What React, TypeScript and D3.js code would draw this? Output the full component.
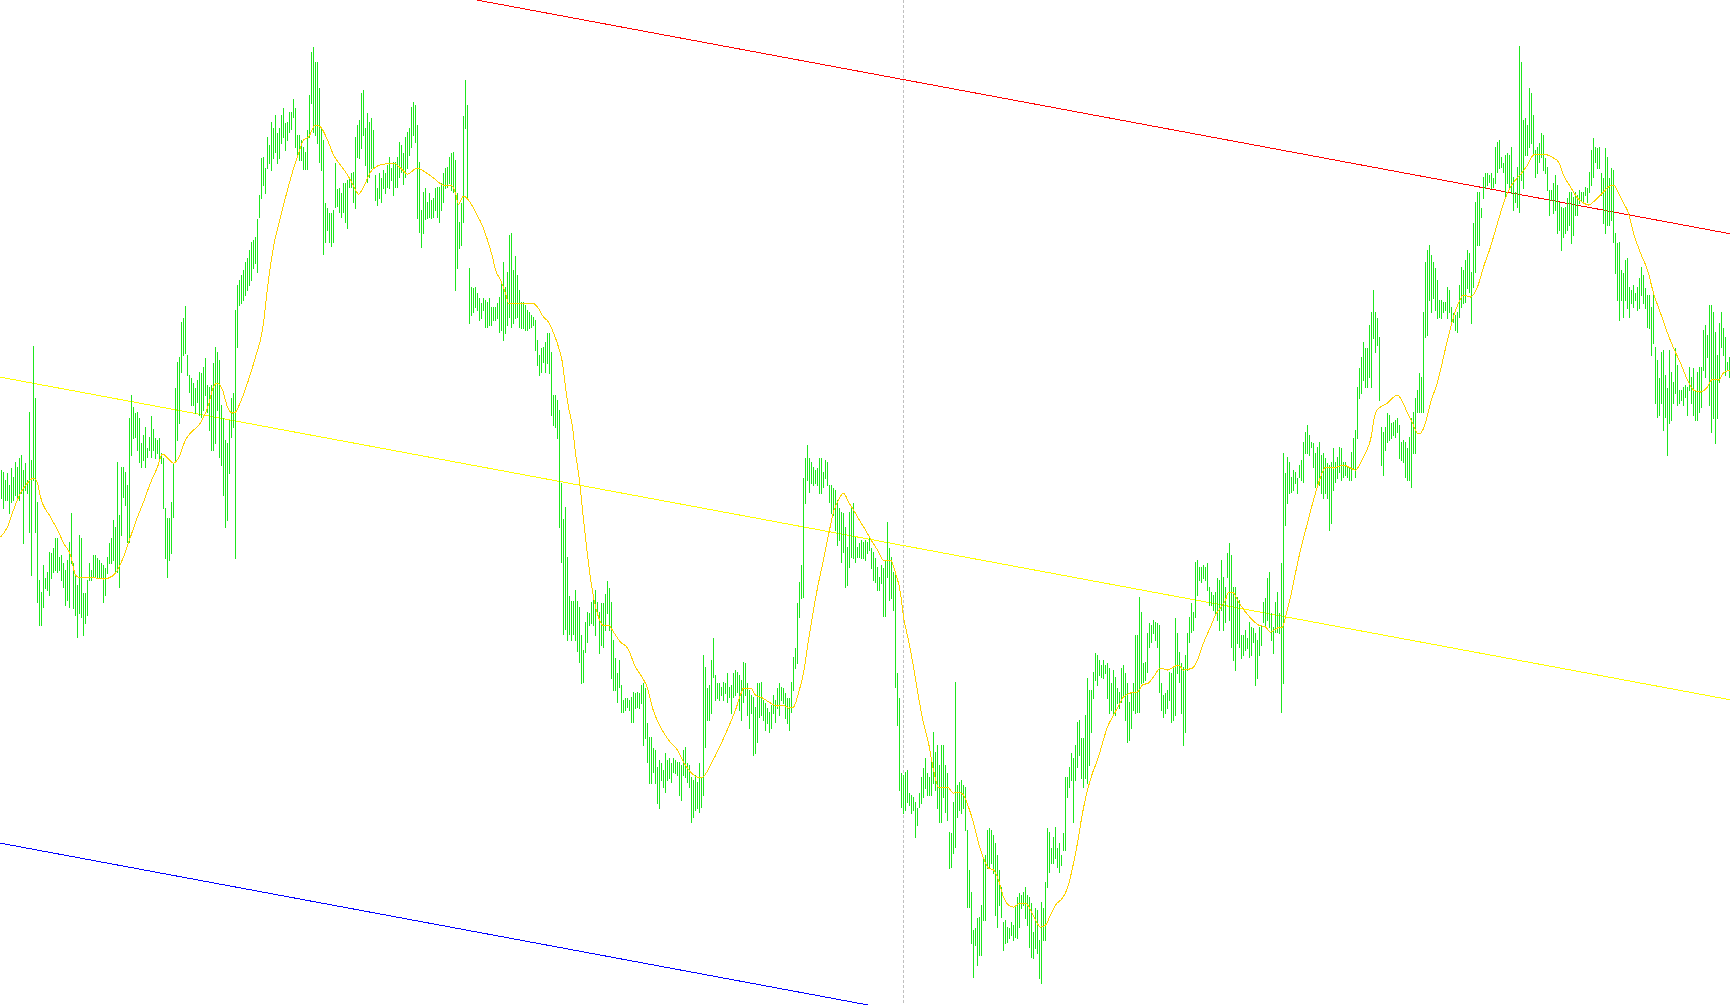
import React from "react";
import * as d3 from "d3";

const WIDTH = 1730;
const HEIGHT = 1005;

// Bar highs (price units)
const highs = [
  530,528,520,527,515,532,523,538,533,542,
  545,530,537,520,588,540,654,602,498,420,
  408,435,422,428,448,447,452,462,462,443,
  445,437,430,440,458,487,437,425,415,465,
  462,407,407,420,437,430,445,445,442,440,
  437,435,432,443,457,462,480,473,538,485,
  533,533,528,515,582,605,593,587,588,582,
  557,565,573,552,563,584,571,562,560,562,
  547,542,492,482,482,498,537,612,638,643,
  678,682,694,645,625,622,617,612,620,628,
  627,633,642,615,613,615,637,653,648,640,
  595,582,560,557,580,602,607,690,715,720,
  725,730,738,742,750,758,760,763,781,805,
  842,843,832,863,855,878,872,885,867,872,
  885,892,877,878,888,888,901,892,865,865,
  860,853,848,870,905,948,953,938,938,912,
  873,860,797,792,787,787,790,837,811,812,
  807,817,817,820,823,827,828,863,875,880,
  907,910,872,887,878,882,870,825,812,827,
  822,830,827,835,843,832,838,838,843,858,
  855,847,863,868,872,893,898,895,875,838,
  790,808,812,798,807,800,802,812,813,813,
  817,827,832,833,843,847,848,840,807,778,
  797,884,920,895,732,713,712,713,707,702,
  697,702,700,698,702,693,693,693,697,703,
  718,738,713,728,765,767,730,744,725,710,
  698,698,695,690,688,685,683,680,660,645,
  652,653,658,667,667,648,605,605,600,590,
  517,481,493,443,404,399,399,410,399,393,
  365,350,378,388,387,398,402,410,398,388,
  397,397,406,419,412,398,360,342,327,340,
  315,300,302,302,300,303,308,307,308,307,
  315,317,312,277,263,263,252,250,233,240,
  237,230,247,240,242,237,242,240,238,238,
  235,250,253,237,235,223,220,225,218,237,
  223,345,333,312,315,340,362,325,317,317,
  313,318,317,327,313,315,327,330,328,325,
  320,338,337,317,310,305,303,293,317,317,
  318,300,297,292,288,295,305,300,312,317,
  313,312,307,302,302,318,343,352,397,418,
  435,522,542,555,542,538,533,530,532,542,
  542,528,540,538,515,515,512,510,500,492,
  488,487,473,453,488,493,497,463,453,457,
  460,458,460,458,463,452,448,442,433,423,
  435,432,440,478,452,443,428,425,327,302,
  227,225,228,230,207,205,203,198,192,207,
  223,232,242,227,223,238,268,248,255,235,
  255,255,235,227,168,167,198,318,215,218,
  220,215,213,170,130,108,70,72,82,83,
  95,142,145,170,172,170,165,157,145,130,
  113,78,80,73,72,78,75,93,103,107,
  105,108,113,105,103,97,68,92,90,60,
  98,92,118,172,168,152,163,173,152,157,
  145,167,223,223,233,247,242,255,278,280,
  262,262,285,322,310,310,328,347,345,340,
  335,340,335,337,332,317,330,323,312,308,
  332,335,327,317,298,308,317,365,365,403,
  388,337,338,367,377,375,380,378,377,375,
  317,305,307,310,328,327,333,382,367,348,
  337,333,345,367,383,397,388,438,440,433,
  433,435,433,437,413,408,405,408,422,420,
  440,423,413,447,457,445,413,413,403,400,
  365,365,370,362,378,373,372,367,360,373,
  375,398,402,422,428,387,373,398,408,387,
  437,547,527,543,538,523,530,528,522,535,
  540,558,568,575,565,558,557,547,553,558,
  545,547,542,537,535,538,552,538,543,553,
  552,538,538,533,532,548,562,570,613,632,
  643,658,652,652,675,688,710,688,682,663,
  573,568,573,587,585,577,578,580,582,575,
  558,560,558,552,563,582,588,602,610,627,
  623,688,738,750,755,745,738,732,720,700,
  700,698,698,713,710,693,687,685,688,715,
  733,730,740,750,747,728,777,798,808,808,
  792,823,827,827,825,827,822,853,858,860,
  843,837,845,847,845,853,823,808,833,954,
  938,880,882,875,912,907,885,850,853,857,
  867,865,842,833,810,810,817,825,815,798,
  793,792,793,802,808,808,803,808,805,810,
  808,808,813,812,828,850,862,853,852,853,
  827,822,852,843,822,832,830,767,757,758,
  730,727,740,742,713,710,715,707,713,722,
  733,725,712,705,705,693,707,653,640,622,
  648,650,625,612,650,628,618,652,635,610,
  610,613,615,613,633,623,632,610,628,633,
  633,670,675,665,695,695,688,668,645,677,
  688,672,663,638,643
];

// Bar lows (price units)
const lows = [
  502,492,500,500,487,498,500,505,500,500,
  507,457,510,507,468,425,520,468,398,375,
  375,393,412,410,405,422,428,430,428,430,
  420,413,395,400,393,437,392,385,363,387,
  383,365,377,385,420,420,423,423,423,423,
  422,398,405,427,437,437,440,428,428,413,
  465,503,495,458,458,545,562,563,550,538,
  533,540,533,543,550,543,550,542,547,542,
  537,492,442,423,440,447,483,538,560,577,
  628,645,647,625,608,595,595,587,598,585,
  583,590,605,588,570,550,550,557,590,543,
  535,505,473,480,527,563,573,442,653,695,
  697,700,705,710,715,720,732,737,728,783,
  802,815,807,832,837,830,842,848,837,842,
  857,863,850,860,868,871,883,853,845,840,
  840,831,831,831,863,897,868,865,857,838,
  830,746,758,770,758,754,758,793,794,788,
  783,788,778,772,813,813,798,792,843,842,
  852,865,835,818,823,832,832,800,795,802,
  798,812,807,813,812,820,805,813,813,823,
  828,816,823,832,845,853,865,858,782,768,
  753,767,781,782,783,782,783,790,783,778,
  790,798,812,813,817,810,808,710,732,752,
  755,778,872,802,677,685,688,693,690,680,
  682,690,673,673,675,675,680,680,682,668,
  670,660,667,675,683,673,677,682,683,673,
  672,672,670,670,672,673,675,650,635,625,
  628,638,628,637,627,585,575,573,562,473,
  438,366,371,360,366,360,366,360,349,338,
  317,318,348,358,375,377,375,365,387,347,
  355,353,370,387,370,322,310,310,298,313,
  288,288,290,293,290,278,278,292,293,292,
  297,255,262,238,217,217,228,217,197,192,
  220,213,208,220,222,218,228,227,225,205,
  200,225,223,218,213,178,183,190,192,188,
  193,205,253,280,280,287,323,300,302,300,
  305,300,307,298,303,287,303,305,308,290,
  280,298,305,285,272,287,245,247,258,283,
  285,280,270,277,268,272,287,278,292,285,
  300,297,282,277,270,288,310,332,337,383,
  402,403,497,520,508,517,515,517,515,507,
  507,513,522,515,498,487,485,470,455,460,
  438,448,413,415,433,443,442,438,443,443,
  442,442,440,447,450,432,420,418,410,410,
  417,384,384,423,400,402,390,313,275,210,
  193,187,190,198,195,187,190,163,175,193,
  197,203,212,205,205,205,217,210,192,178,
  178,203,188,180,132,133,147,153,183,190,
  187,192,170,93,93,57,23,55,35,45,
  45,80,80,132,132,137,127,85,73,95,
  83,50,57,58,62,65,60,63,62,73,
  92,95,82,75,53,43,42,52,47,22,
  17,60,60,113,128,137,137,142,133,128,
  135,150,150,203,213,220,178,220,233,245,
  222,213,222,217,235,268,302,320,315,325,
  323,322,327,302,287,290,287,285,297,292,
  298,305,280,258,260,272,290,287,288,288,
  317,318,320,328,353,358,367,360,353,308,
  290,283,287,292,300,278,280,285,327,318,
  287,255,268,330,358,368,370,383,405,420,
  418,422,420,410,395,395,390,387,380,370,
  390,370,378,423,380,353,340,330,357,353,
  342,345,350,352,343,345,358,315,322,345,
  355,378,375,380,373,360,347,368,368,367,
  288,317,475,497,507,508,510,517,507,523,
  520,518,547,547,545,553,533,513,517,515,
  507,502,507,502,470,477,510,518,522,528,
  520,523,525,523,520,520,532,523,562,602,
  607,620,613,613,623,613,662,648,655,600,
  535,525,550,558,560,562,565,563,568,542,
  540,538,523,520,520,513,547,547,588,588,
  588,588,663,665,700,688,702,690,682,683,
  682,688,690,682,688,677,678,670,668,683,
  693,697,698,712,708,677,713,728,755,755,
  783,802,812,815,818,812,813,817,828,832,
  833,828,803,817,813,807,790,798,793,788,
  820,812,845,845,853,857,847,823,827,838,
  843,830,827,810,785,800,787,790,767,770,
  750,763,767,770,775,757,765,785,785,797,
  800,797,805,798,808,815,823,838,832,832,
  805,777,767,775,775,780,758,727,700,680,
  700,683,700,692,683,697,693,700,690,692,
  705,697,692,673,672,645,657,597,583,585,
  597,570,583,545,577,580,597,607,595,597,
  600,595,603,585,610,597,585,580,580,588,
  593,630,623,643,595,568,582,557,582,618,
  653,645,625,630,623
];

// Moving average: bar index and value
const maIndex = [
  -0.5,3,6,9.5,13,16,18,19.5,24.5,28.5,31,34.5,37,38.5,43,47,51,55.5,58,61,
  64.5,68,71,74.5,78,80.5,83,86,88.5,92,94.5,99.5,103,106,108,110.5,113,115.5,117,119.5,
  123.5,127,130.5,133.5,136,139.5,143,145.5,148,151,153.5,157,159.5,163,166,169.5,172,174.5,177,178.5,
  181,184.5,188,192,196,199.5,203,208,211,216,221,224.5,227,228.5,231,233.5,237,240.5,243,245.5,
  247,249.5,252,253.5,259.5,265.5,268,271,273.5,276,278.5,280.5,282,283.5,285.5,287,288.5,289.5,291,293,
  294.5,296,298.5,300.5,303.5,306,309.5,313,317,320.5,323,325.5,329.5,333.5,338,341,344.5,348,350.5,354.5,
  359.5,363.5,367,369.5,371,374.5,377,380.5,384.5,388,391,393.5,396,398.5,401,403.5,406,408.5,411,413.5,
  416,418.5,421,423.5,426,429.5,432,434.5,438,441,444.5,447,449.5,451,453.5,456,458.5,461,463.5,466,
  468.5,473,476,478.5,481,483.5,486,488.5,491,493.5,496,498.5,501,503.5,506,509.5,512,514.5,517,519.5,
  522,524.5,527,530.5,533,535.5,538,540.5,543,545.5,548,550.5,553,555.5,558,561,564.5,568,570.5,573.5,
  576,579.5,583,586,588.5,591,595.5,598,601,604.5,607,609.5,612,613.5,616,618.5,622,625.5,628.5,632,
  634.5,638,640.5,642,644.5,647,649.5,653,656,658.5,660.5,662,666,671,674.5,677,679.5,682,684.5,687,
  689.5,693,695.5,698,700.5,703,705.5,708,709.5,712,714.5,718,719.5,723,726,728.5,731,734.5,738,741,
  744.5,747,749.5,752,754.5,757,760.5,763,766,769.5,773,776,778.5,781,784.5,788,791,793.5,797,800.5,
  803.5,806,808.5,811,813.5,816,819.5,823,826,829.5,833,836,839.5,843,846,849.5,853,855.5,858.5,861,864.5
];
const maValue = [
  463,473,490,507,517,522,517,503,483,468,457,445,425,423,423,422,421,424,430,443,
  463,483,498,517,533,546,542,537,542,560,567,577,592,613,617,610,593,587,588,598,
  620,643,670,720,753,783,810,828,843,860,863,875,873,860,845,835,828,820,810,806,
  813,828,834,836,837,832,826,832,829,822,815,815,807,796,804,800,788,774,760,743,
  730,720,707,697,697,697,693,683,678,667,653,637,613,593,573,547,527,510,480,445,
  422,403,383,375,375,368,358,352,333,322,312,292,273,260,250,238,228,223,223,235,
  255,273,290,305,312,312,305,302,297,294,295,292,293,307,327,360,390,417,440,465,
  488,500,507,498,490,478,470,461,450,440,440,427,407,383,360,333,303,277,257,230,
  213,213,207,208,205,193,177,157,142,132,130,120,103,95,93,97,97,90,80,73,
  75,85,95,102,112,132,157,187,210,227,240,257,273,283,292,303,307,308,315,317,
  323,332,330,333,335,330,332,340,357,373,385,392,400,408,407,398,388,380,375,373,
  368,372,373,383,403,427,450,477,500,517,528,533,532,535,532,530,537,547,560,587,
  593,597,602,605,598,587,577,567,567,577,597,618,630,660,683,697,705,703,713,733,
  753,770,787,802,813,820,828,835,845,846,845,842,838,825,813,802,797,795,800,807,
  813,815,807,797,787,767,747,730,707,687,667,652,637,620,610,608,613,621,620,627,630
];

// Linear regression channel: middle line at two bar indices, plus deviation
const channelIndex = [-1, 865];
const channelMid = [623, 300];
const channelDeviation = 466;

// Vertical separator bar index
const separatorIndex = 451;

const BAR_COLOR = "#1ee61e";
const MA_COLOR = "#ffd200";

export default function App() {
  const x = d3.scaleLinear().domain([0, highs.length - 1]).range([1.5, 2 * (highs.length - 1) + 1.5]);
  const y = d3.scaleLinear().domain([1000, -5]).range([0, 1005]);

  const barsPath = highs
    .map((h, i) => `M${x(i)},${y(h) - 0.5}V${y(lows[i]) + 0.5}`)
    .join("");

  const maPoints: [number, number][] = maIndex.map((idx, k) => [idx, maValue[k]]);
  const maLine = d3
    .line<[number, number]>()
    .x((d) => x(d[0]))
    .y((d) => y(d[1]))
    .curve(d3.curveMonotoneX)(maPoints) as string;

  const channelLine = (offset: number) =>
    d3
      .line<number>()
      .x((d) => x(d))
      .y((d, k) => y(channelMid[k] + offset))(channelIndex) as string;

  const sx = Math.floor(x(separatorIndex)) + 0.5;

  return (
    <div style={{ position: "absolute", left: 0, top: 0, width: WIDTH, height: HEIGHT, overflow: "hidden", background: "#ffffff" }}>
      <svg width={WIDTH} height={HEIGHT} style={{ display: "block" }}>
        <rect x={0} y={0} width={WIDTH} height={HEIGHT} fill="#ffffff" />
        <line x1={sx} x2={sx} y1={0} y2={HEIGHT} stroke="#c0c0c0" strokeWidth={1} strokeDasharray="3,2" shapeRendering="crispEdges" />
        <path d={channelLine(channelDeviation)} stroke="#ff0000" strokeWidth={1} fill="none" shapeRendering="crispEdges" />
        <path d={channelLine(0)} stroke="#ffff00" strokeWidth={1} fill="none" shapeRendering="crispEdges" />
        <path d={channelLine(-channelDeviation)} stroke="#0000ff" strokeWidth={1} fill="none" shapeRendering="crispEdges" />
        <path d={barsPath} stroke={BAR_COLOR} strokeWidth={1} fill="none" shapeRendering="crispEdges" />
        <path d={maLine} stroke={MA_COLOR} strokeWidth={1} fill="none" shapeRendering="crispEdges" />
      </svg>
    </div>
  );
}
